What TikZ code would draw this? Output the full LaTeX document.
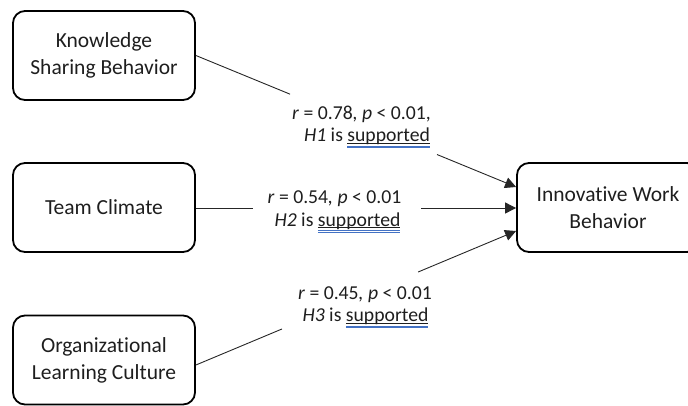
\documentclass[tikz,border=0pt]{standalone}
\usepackage{fontspec}
\setmainfont{Carlito}[Ligatures={NoCommon,NoRare}]
\usetikzlibrary{calc,arrows.meta}
\definecolor{ulblue}{RGB}{68,114,196}
\definecolor{txt}{RGB}{30,30,30}
\newcommand{\suppu}{\setbox0=\hbox{supported}\rlap{\copy0}\rlap{\raisebox{-2.0pt}{\color{txt}\rule{\wd0}{0.9pt}}}\rlap{\raisebox{-5.0pt}{\color{ulblue}\rule{\wd0}{1.2pt}}}\raisebox{-6.7pt}{\color{ulblue}\rule{\wd0}{1.2pt}}}
\begin{document}
\begin{tikzpicture}[x=1pt,y=-1pt,
  box/.style={draw=black, line width=1.8pt, rounded corners=12pt, minimum width=182pt, minimum height=89pt, align=center, font=\fontsize{21.5}{27}\selectfont, text=txt, inner sep=0pt},
  lbl/.style={anchor=base, inner sep=0pt, font=\fontsize{19.7}{23}\selectfont, text=txt},
  conn/.style={line width=0.9pt, draw=black!85},
  arr/.style={conn, -{Triangle[length=11pt,width=11pt]}}]
\useasboundingbox (0,0) rectangle (688,405);
\clip (0,0) rectangle (688,405);
\node[box] (ksb) at (104,55.5) {Knowledge\\Sharing Behavior};
\node[box] (tc) at (104,207.5) {Team Climate};
\node[box] (olc) at (104,360) {Organizational\\Learning Culture};
\node[box] (iwb) at (608,207.5) {Innovative Work\\Behavior};
\coordinate (t1) at ($(iwb.west)+(0,-20.5)$);
\coordinate (t2) at ($(iwb.west)+(0,0.5)$);
\coordinate (t3) at ($(iwb.west)+(0,23.5)$);
\coordinate (s2) at ($(tc.east)+(0,0.5)$);
\coordinate (s3) at ($(olc.east)+(0,5)$);
\draw[conn] (ksb.east) -- ($(ksb.east)!0.294!(t1)$);
\draw[arr] ($(ksb.east)!0.753!(t1)$) -- (t1);
\draw[conn] (s2) -- ($(s2)!0.178!(t2)$);
\draw[arr] ($(s2)!0.703!(t2)$) -- (t2);
\draw[conn] (s3) -- ($(s3)!0.269!(t3)$);
\draw[arr] ($(s3)!0.694!(t3)$) -- (t3);
\node[lbl] (l1a) at (361.5,119.3) {\textit{r} = 0.78\textit{, p} < 0.01,};
\node[lbl] (l1b) at (367,141.7) {\textit{H1} is \suppu};
\node[lbl] (l2a) at (334.5,203.3) {\textit{r} = 0.54\textit{, p} < 0.01};
\node[lbl] (l2b) at (337.5,226) {\textit{H2} is \suppu};
\node[lbl] (l3a) at (365,299) {\textit{r} = 0.45\textit{, p} < 0.01};
\node[lbl] (l3b) at (365.5,321.7) {\textit{H3} is \suppu};
\end{tikzpicture}
\end{document}
